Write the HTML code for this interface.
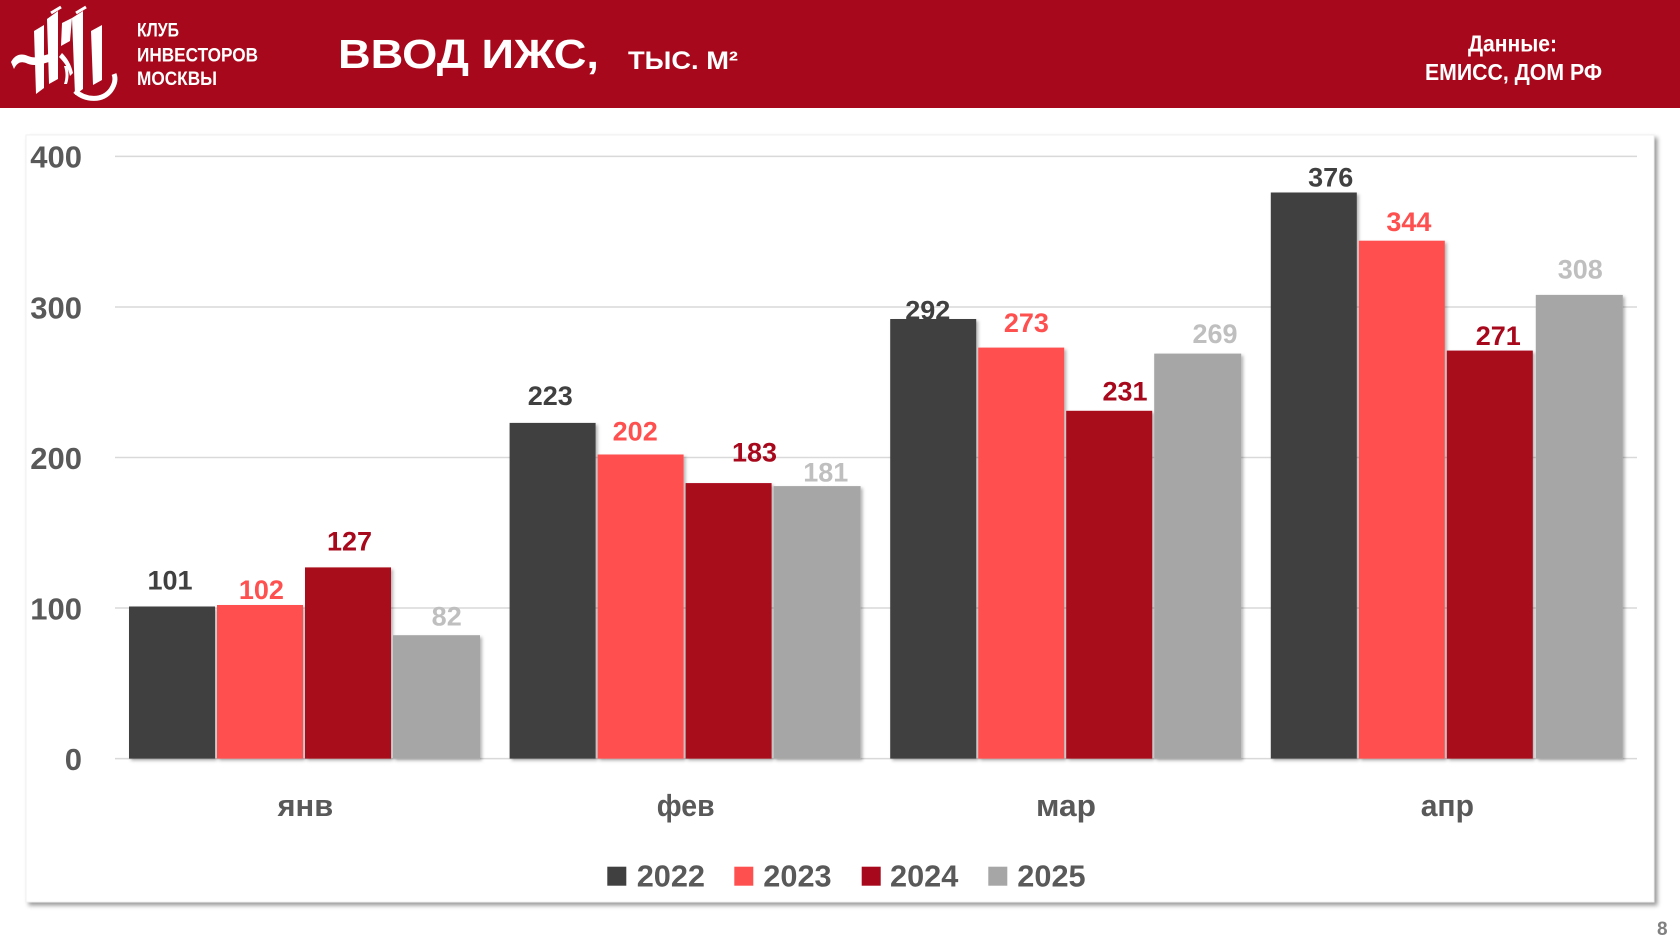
<!DOCTYPE html>
<html><head><meta charset="utf-8"><style>
html,body{margin:0;padding:0;background:#fff;}
svg{display:block;}
text{font-family:"Liberation Sans",sans-serif;font-weight:bold;}
</style></head><body>
<svg width="1680" height="945" viewBox="0 0 1680 945" xmlns="http://www.w3.org/2000/svg">
<defs>
<filter id="ps" x="-5%" y="-5%" width="110%" height="110%"><feDropShadow dx="3" dy="3" stdDeviation="2" flood-color="#000" flood-opacity="0.4"/></filter>
<filter id="bs" x="-10%" y="-10%" width="130%" height="130%"><feDropShadow dx="2" dy="2" stdDeviation="1.5" flood-color="#000" flood-opacity="0.3"/></filter>
</defs>
<rect x="0" y="0" width="1680" height="945" fill="#fff"/>
<!-- header -->
<rect x="0" y="0" width="1680" height="108" fill="#a8081b"/>
<!-- logo -->
<g fill="#fff">
<path d="M11,62 C15,54 22,53 28,56 C33,58 38,58 44,54 L45,61 C39,66 32,66 26,63 C20,61 17,63 14,69 Z"/>
<polygon points="34,31 44,25 44,88 36,94"/>
<polygon points="47,19 58,11 58,79 49,84"/>
<polygon points="42,56 49,54 49,62 42,64"/>
<polygon points="62,23 72,18 70,41 61,46"/>
<polygon points="72,18 83,11 83,89 75,95"/>
<polygon points="91,31 102,25 102,80 93,85"/>
<path d="M59,57 C64,62 68,67 70,76 L73,73 C71,64 67,58 62,53 Z"/>
<path d="M64,66 C66,72 66,78 64,84 L67,84 C69,78 69,72 67,66 Z"/>
</g>
<path d="M75,91 C86,101 103,101 111,90 C115,84 116,79 114,74" stroke="#fff" stroke-width="5" fill="none"/>
<path d="M51,13 L61,7" stroke="#fff" stroke-width="3"/>
<path d="M76,13 L86,7" stroke="#fff" stroke-width="3"/>
<text x="137" y="36.5" font-size="19" fill="#fff" textLength="42" lengthAdjust="spacingAndGlyphs">КЛУБ</text>
<text x="137" y="61.5" font-size="19" fill="#fff" textLength="121" lengthAdjust="spacingAndGlyphs">ИНВЕСТОРОВ</text>
<text x="137" y="85" font-size="19" fill="#fff" textLength="80" lengthAdjust="spacingAndGlyphs">МОСКВЫ</text>
<text x="338" y="68" font-size="41" fill="#fff" textLength="261" lengthAdjust="spacingAndGlyphs">ВВОД ИЖС,</text>
<text x="628" y="69" font-size="25" fill="#fff" textLength="110" lengthAdjust="spacingAndGlyphs">ТЫС. М²</text>
<text x="1468" y="51.5" font-size="23" fill="#fff" textLength="89" lengthAdjust="spacingAndGlyphs">Данные:</text>
<text x="1425" y="80" font-size="23" fill="#fff" textLength="177" lengthAdjust="spacingAndGlyphs">ЕМИСС, ДОМ РФ</text>
<!-- panel -->
<rect x="26" y="135" width="1628" height="767" fill="#fff" stroke="#f0f0f0" stroke-width="1" filter="url(#ps)"/>
<!-- gridlines -->
<g stroke="#d9d9d9" stroke-width="1.5">
<line x1="115" y1="156.4" x2="1637" y2="156.4"/>
<line x1="115" y1="307" x2="1637" y2="307"/>
<line x1="115" y1="457.5" x2="1637" y2="457.5"/>
<line x1="115" y1="608" x2="1637" y2="608"/>
<line x1="115" y1="758.6" x2="1637" y2="758.6"/>
</g>
<!-- y labels -->
<g font-size="31" fill="#595959" text-anchor="end">
<text x="82" y="167.7">400</text>
<text x="82" y="318.5">300</text>
<text x="82" y="469">200</text>
<text x="82" y="619.5">100</text>
<text x="82" y="770">0</text>
</g>
<!-- bars -->
<g filter="url(#bs)">
<rect x="129" y="606.5" width="86" height="152.1" fill="#404040"/>
<rect x="217" y="605" width="86" height="153.6" fill="#ff5050"/>
<rect x="305" y="567.4" width="86" height="191.2" fill="#a8081b"/>
<rect x="393" y="635.2" width="87" height="123.4" fill="#a6a6a6"/>

<rect x="509.6" y="422.9" width="86" height="335.7" fill="#404040"/>
<rect x="597.6" y="454.5" width="86" height="304.1" fill="#ff5050"/>
<rect x="685.6" y="483.1" width="86" height="275.5" fill="#a8081b"/>
<rect x="773.6" y="486.1" width="87" height="272.5" fill="#a6a6a6"/>

<rect x="890.2" y="319" width="86" height="439.6" fill="#404040"/>
<rect x="978.2" y="347.6" width="86" height="411" fill="#ff5050"/>
<rect x="1066.2" y="410.8" width="86" height="347.8" fill="#a8081b"/>
<rect x="1154.2" y="353.6" width="87" height="405" fill="#a6a6a6"/>

<rect x="1270.8" y="192.5" width="86" height="566.1" fill="#404040"/>
<rect x="1358.8" y="240.7" width="86" height="517.9" fill="#ff5050"/>
<rect x="1446.8" y="350.6" width="86" height="408" fill="#a8081b"/>
<rect x="1535.8" y="294.9" width="87" height="463.7" fill="#a6a6a6"/>
</g>
<!-- value labels -->
<g font-size="27" text-anchor="middle">
<text x="170" y="589.3" fill="#404040">101</text>
<text x="261.4" y="599" fill="#ff5050">102</text>
<text x="349.5" y="550.7" fill="#a8081b">127</text>
<text x="446.7" y="625.7" fill="#bfbfbf">82</text>

<text x="550.3" y="405" fill="#404040">223</text>
<text x="635.2" y="440.7" fill="#ff5050">202</text>
<text x="754.5" y="461.7" fill="#a8081b">183</text>
<text x="825.8" y="481.7" fill="#bfbfbf">181</text>

<text x="927.8" y="319.3" fill="#404040">292</text>
<text x="1026.4" y="332.2" fill="#ff5050">273</text>
<text x="1125" y="400.7" fill="#a8081b">231</text>
<text x="1215" y="342.9" fill="#bfbfbf">269</text>

<text x="1330.7" y="186.5" fill="#404040">376</text>
<text x="1408.9" y="231" fill="#ff5050">344</text>
<text x="1498.3" y="345" fill="#a8081b">271</text>
<text x="1580.3" y="278.5" fill="#bfbfbf">308</text>
</g>
<!-- category labels -->
<g font-size="31" fill="#595959">
<text x="277.5" y="816" textLength="55.7" lengthAdjust="spacingAndGlyphs">янв</text>
<text x="656.8" y="816" textLength="57.8" lengthAdjust="spacingAndGlyphs">фев</text>
<text x="1036" y="816" textLength="60" lengthAdjust="spacingAndGlyphs">мар</text>
<text x="1420.7" y="816" textLength="53.3" lengthAdjust="spacingAndGlyphs">апр</text>
</g>
<!-- legend -->
<rect x="607.3" y="866.7" width="19" height="19" fill="#404040"/>
<rect x="734.3" y="866.7" width="19" height="19" fill="#ff5050"/>
<rect x="861.7" y="866.7" width="19" height="19" fill="#a8081b"/>
<rect x="988.3" y="866.7" width="19" height="19" fill="#a6a6a6"/>
<g font-size="31" fill="#595959">
<text x="636.7" y="886.7" textLength="68.3" lengthAdjust="spacingAndGlyphs">2022</text>
<text x="763.3" y="886.7" textLength="68.3" lengthAdjust="spacingAndGlyphs">2023</text>
<text x="890" y="886.7" textLength="68.3" lengthAdjust="spacingAndGlyphs">2024</text>
<text x="1017.3" y="886.7" textLength="68.3" lengthAdjust="spacingAndGlyphs">2025</text>
</g>
<text x="1657" y="935" font-size="19" fill="#808080" font-weight="normal">8</text>
</svg>
</body></html>
